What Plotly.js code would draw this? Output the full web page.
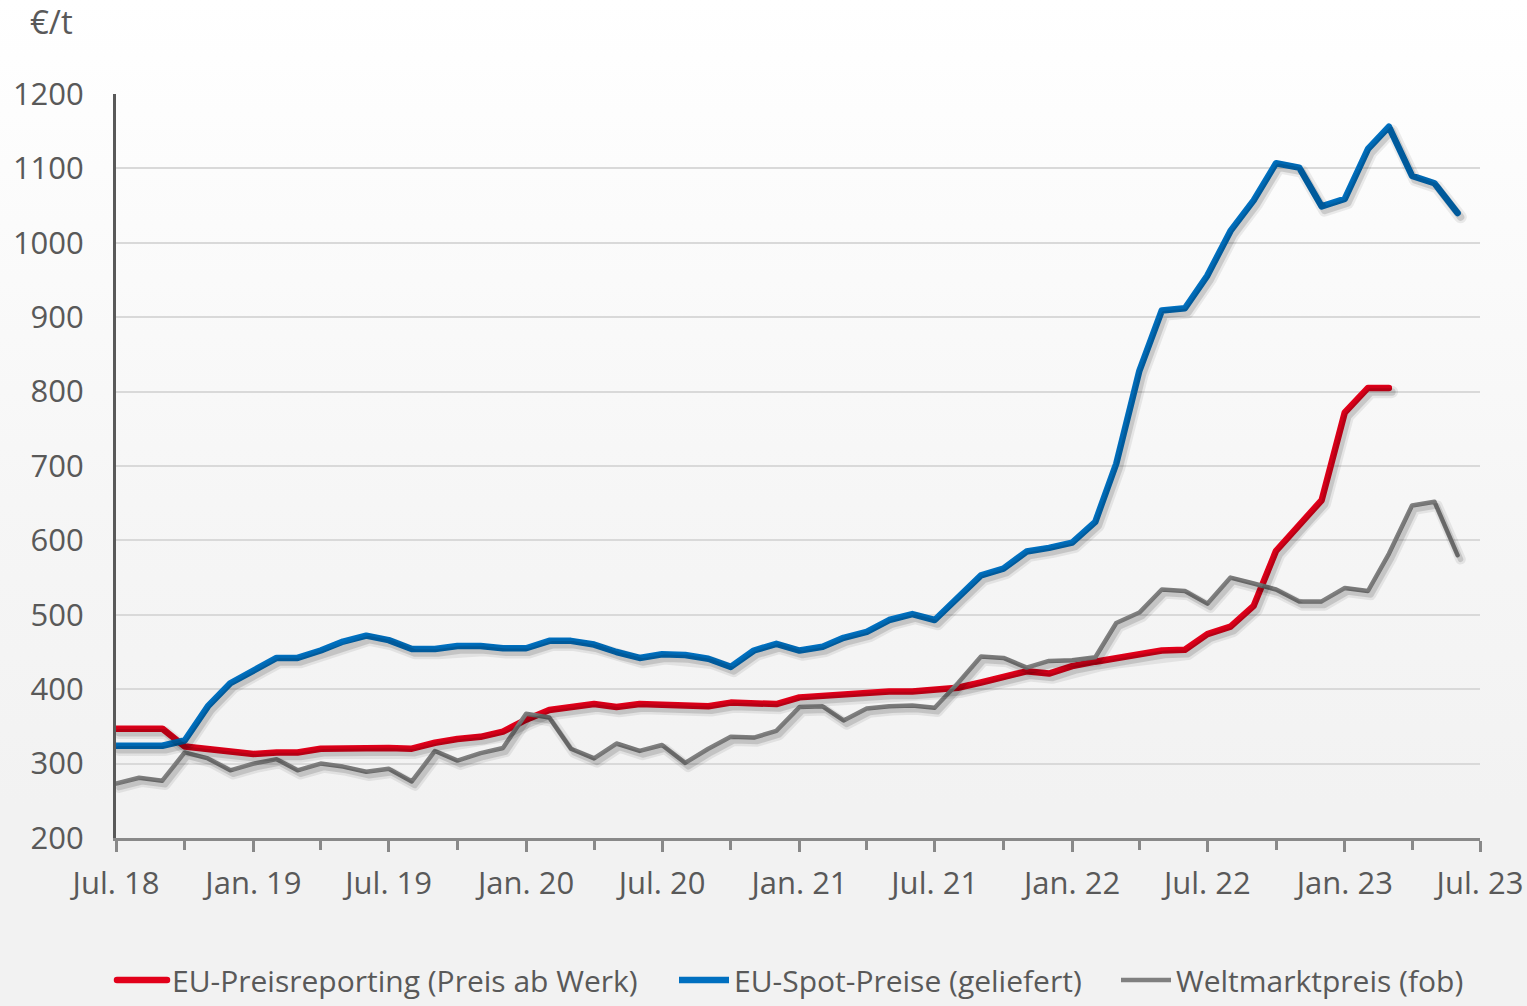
<!DOCTYPE html>
<html>
<head>
<meta charset="utf-8">
<script src="https://cdn.plot.ly/plotly-3.0.1.min.js"></script>
<style>
  html, body { margin: 0; padding: 0; }
  body { width: 1527px; height: 1006px; overflow: hidden;
         background: linear-gradient(to bottom, #ffffff 0%, #f6f6f6 50%, #f2f2f2 80%, #f2f2f2 100%); }
  #chart { width: 1527px; height: 1006px; }
  .scatterlayer .js-line { stroke-linecap: round; stroke-linejoin: round; }
  .legend .legendlines path.js-line { d: path("M5,0h50"); stroke-linecap: round; }
</style>
</head>
<body>
<div id="chart"></div>
<script>
const months = [
  '2018-07','2018-08','2018-09','2018-10','2018-11','2018-12',
  '2019-01','2019-02','2019-03','2019-04','2019-05','2019-06',
  '2019-07','2019-08','2019-09','2019-10','2019-11','2019-12',
  '2020-01','2020-02','2020-03','2020-04','2020-05','2020-06',
  '2020-07','2020-08','2020-09','2020-10','2020-11','2020-12',
  '2021-01','2021-02','2021-03','2021-04','2021-05','2021-06',
  '2021-07','2021-08','2021-09','2021-10','2021-11','2021-12',
  '2022-01','2022-02','2022-03','2022-04','2022-05','2022-06',
  '2022-07','2022-08','2022-09','2022-10','2022-11','2022-12',
  '2023-01','2023-02','2023-03','2023-04','2023-05','2023-06'
];

const euPreisreporting = [
  347, 347, 347, 323, 320, 315,
  313, 315, 315, 320, 321, 322,
  321, 320, 328, 333, 336, 343,
  359, 372, 376, 380, 376, 380,
  379, 379, 377, 382, 380, 380,
  389, 391, 394, 396, 397, 397,
  400, 402, 409, 417, 424, 421,
  431, 437, 442, 446, 452, 453,
  474, 484, 512, 586, 622, 654,
  772, 805, 805
];

const euSpotPreise = [
  324, 323, 324, 331, 377, 408,
  425, 442, 442, 452, 464, 472,
  466, 454, 454, 458, 458, 455,
  455, 465, 465, 460, 450, 442,
  447, 446, 441, 430, 452, 461,
  452, 457, 469, 477, 493, 501,
  493, 524, 553, 562, 585, 590,
  597, 625, 703, 828, 909, 912,
  956, 1016, 1057, 1107, 1101, 1049,
  1059, 1126, 1156, 1090, 1080, 1040
];

const weltmarktpreis = [
  273, 281, 277, 315, 307, 291,
  300, 306, 291, 300, 296, 289,
  293, 276, 317, 304, 314, 321,
  367, 362, 320, 307, 327, 317,
  325, 301, 320, 336, 335, 344,
  376, 377, 358, 374, 377, 378,
  375, 408, 444, 442, 429, 438,
  439, 443, 489, 503, 534, 532,
  515, 550, 542, 534, 518, 518,
  536, 532, 582, 647, 652, 580
];

const seriesNames = ['EU-Preisreporting (Preis ab Werk)', 'EU-Spot-Preise (geliefert)', 'Weltmarktpreis (fob)'];

const tickDates = ['2018-07-01','2019-01-01','2019-07-01','2020-01-01','2020-07-01','2021-01-01',
                   '2021-07-01','2022-01-01','2022-07-01','2023-01-01','2023-07-01'];
const tickLabels = ['Jul. 18','Jan. 19','Jul. 19','Jan. 20','Jul. 20','Jan. 21',
                    'Jul. 21','Jan. 22','Jul. 22','Jan. 23','Jul. 23'];
const yTicks = [200, 300, 400, 500, 600, 700, 800, 900, 1000, 1100, 1200];

const FONT = '"Open Sans", sans-serif';
const TXT = '#595959';

const seriesData = [
  { x: months.slice(0, euPreisreporting.length), y: euPreisreporting, color: '#e2001a', width: 6.5, legend: 'legend' },
  { x: months, y: euSpotPreise, color: '#0070c0', width: 6.5, legend: 'legend2' },
  { x: months, y: weltmarktpreis, color: '#808080', width: 4.5, legend: 'legend3' }
];

const traces = [];
// soft drop shadows: same data drawn on overlay axes whose ranges are shifted a few pixels
seriesData.forEach(s => {
  traces.push({ x: s.x, y: s.y, xaxis: 'x2', yaxis: 'y2', type: 'scatter', mode: 'lines',
    showlegend: false, hoverinfo: 'skip', line: { color: 'rgba(0,0,0,0.07)', width: s.width + 6 } });
  traces.push({ x: s.x, y: s.y, xaxis: 'x2', yaxis: 'y2', type: 'scatter', mode: 'lines',
    showlegend: false, hoverinfo: 'skip', line: { color: 'rgba(0,0,0,0.13)', width: s.width + 1 } });
});
seriesData.forEach((s, i) => {
  traces.push({ x: s.x, y: s.y, name: seriesNames[i], legend: s.legend,
    type: 'scatter', mode: 'lines', line: { color: s.color, width: s.width } });
});

function legendAt(px) {
  return {
    xref: 'container', yref: 'container', x: px / 1527, xanchor: 'left',
    y: -0.004, yanchor: 'bottom', orientation: 'h',
    font: { family: FONT, color: TXT, size: 30 }, bgcolor: 'rgba(0,0,0,0)',
    borderwidth: 0, itemwidth: 50
  };
}

const layout = {
  width: 1527, height: 1006,
  margin: { l: 116, r: 47, t: 94, b: 168 },
  paper_bgcolor: 'rgba(0,0,0,0)',
  plot_bgcolor: 'rgba(0,0,0,0)',
  font: { family: FONT, color: TXT, size: 31 },
  showlegend: true,
  legend: legendAt(112),
  legend2: legendAt(674),
  legend3: legendAt(1116),
  xaxis: {
    type: 'date',
    range: ['2018-07-01', '2023-07-01'],
    tickmode: 'array', tickvals: tickDates, ticktext: tickLabels,
    ticks: 'outside', ticklen: 11, tickwidth: 3, tickcolor: '#898989',
    minor: { dtick: 'M3', tick0: '2018-07-01', ticks: 'outside', ticklen: 9, tickwidth: 3, tickcolor: '#898989', showgrid: false },
    showline: true, linecolor: '#898989', linewidth: 3,
    showgrid: false, zeroline: false,
    ticklabelstandoff: 5,
    tickfont: { family: FONT, color: TXT, size: 31 }
  },
  yaxis: {
    range: [200, 1200],
    tickmode: 'array', tickvals: yTicks,
    ticks: '', showline: true, linecolor: '#595959', linewidth: 3,
    gridcolor: '#d9d9d9', gridwidth: 2, zeroline: false,
    ticklabelstandoff: 23,
    tickfont: { family: FONT, color: TXT, size: 31 }
  },
  // invisible overlay axes, offset ~3px right and ~4px down, for the shadow lines
  xaxis2: {
    type: 'date', overlaying: 'x', range: ['2018-06-27', '2023-06-27'],
    visible: false, showgrid: false, zeroline: false
  },
  yaxis2: {
    overlaying: 'y', range: [205.4, 1205.4],
    visible: false, showgrid: false, zeroline: false
  },
  annotations: [
    { text: '€/t', xref: 'paper', yref: 'paper', x: -0.047, y: 1.097,
      xanchor: 'center', yanchor: 'middle', showarrow: false,
      font: { family: FONT, color: TXT, size: 33 } }
  ]
};

Plotly.newPlot('chart', traces, layout, { staticPlot: true, displayModeBar: false });
</script>
</body>
</html>
